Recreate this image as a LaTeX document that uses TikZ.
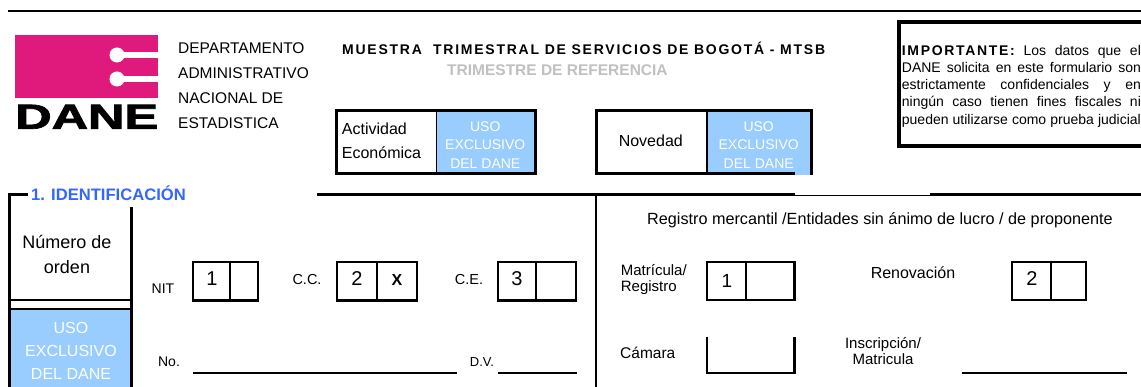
\documentclass[tikz,border=0pt]{standalone}
\usepackage{fontspec}
\usepackage{graphicx}
\setmainfont{Liberation Sans}
\newfontfamily\danefont{Liberation Sans}[BoldFeatures={FakeBold=2}]
\newfontfamily\trackfont{Liberation Sans}[LetterSpace=12.5]
\newfontfamily\noticefont{Liberation Sans}[LetterSpace=12]
\newcommand\fsz[1]{\fontsize{#1}{#1}\selectfont}
\definecolor{danepink}{RGB}{224,26,124}
\definecolor{usoblue}{RGB}{153,204,255}
\definecolor{secblue}{RGB}{51,102,255}
\definecolor{refgray}{RGB}{192,192,192}
\tikzset{
  formline/.style={line width=2.2pt},
  thickline/.style={line width=3pt},
  lbl/.style={inner sep=0pt, anchor=base},
  lbll/.style={inner sep=0pt, anchor=base west},
  usolabel/.style={lbl, text=white, font=\fsz{14}},
  digit/.style={lbl, font=\fsz{20}},
}

\begin{document}
\begin{tikzpicture}[x=1pt,y=-1pt]
\useasboundingbox (0,0) rectangle (1141,387);
\draw[formline] (8,11) -- (1141,11); % top rule

% logo
\fill[danepink] (15,35) rectangle (158,98);
\foreach \yc in {55,79} {
  \fill[white] (117,\yc) circle (7.5pt);
  \fill[white] (117,\yc-2.7) rectangle (158,\yc+2.7);
}
\node[inner sep=0pt, anchor=south west] (danename) at (15,129) {\resizebox{143pt}{24pt}{\danefont\bfseries DANE}};
\foreach \t [count=\i] in {DEPARTAMENTO,ADMINISTRATIVO,NACIONAL DE,ESTADISTICA}
  \node[lbll, font=\fsz{15.5}] (dept\i) at (178,28.3+25*\i) {\t};

% titles
\node[lbll, font=\trackfont\bfseries\fsz{14}] (survey) at (342,54.3) {MUESTRA\ \ TRIMESTRAL DE SERVICIOS DE BOGOTÁ - MTSB};
\node[lbll, text=refgray, font=\bfseries\fsz{15.5}] (period) at (447,76) {TRIMESTRE DE REFERENCIA};

% actividad / novedad
\fill[usoblue] (436.5,111) rectangle (535.3,173.3);
\fill[usoblue] (706.7,111) rectangle (811,173.3);
\draw[thickline] (336.7,111) rectangle (535.3,173.3);
\draw[thickline] (596.3,111) rectangle (811,173.3);
\draw[line width=1.8pt] (436.5,111) -- (436.5,173.3) (706.7,111) -- (706.7,173.3);
\fill[usoblue] (795,172) rectangle (809.5,175.5);
\node[lbll, font=\fsz{16}] (act1) at (341.7,135) {Actividad};
\node[lbll, font=\fsz{16}] (act2) at (341.7,158.3) {Económica};
\node[lbl, font=\fsz{16}] (nov) at (650.8,146.7) {Novedad};
\foreach \t [count=\i] in {USO,EXCLUSIVO,DEL DANE} {
  \node[usolabel] (usoact\i) at (485.3,113.4+18.3*\i) {\t};
  \node[usolabel] (usonov\i) at (758.7,113.4+18.3*\i) {\t};
}

% importante
\draw[line width=4.5pt] (899,22) rectangle (1160,146);
\node[anchor=base west, inner sep=0pt, text width=239pt, align=justify, font=\fontsize{14}{17.1}\selectfont] (notice) at (901.7,55.7)
  {\hyphenpenalty=10000 {\noticefont\bfseries IMPORTANTE:} Los datos que el\linebreak DANE solicita en este formulario son\linebreak estrictamente confidenciales y en\linebreak ningún caso tienen fines fiscales ni\linebreak pueden utilizarse como prueba judicial\parfillskip=0pt\par};

% 1. identificacion
\draw[formline] (28,194.5) -- (9.5,194.5) -- (9.5,387);
\node[lbll, text=secblue, font=\bfseries\fsz{16.6}] (sec1) at (31,200.7) {1. IDENTIFICACIÓN};
\draw[formline] (317,194.5) -- (795,194.5) (930,194.5) -- (1141,194.5);
\draw[line width=1.5pt] (795,195.3) -- (930,195.3);
\draw[formline] (595.8,194.5) -- (595.8,387);

% numero de orden
\draw[thickline] (131.7,207.3) -- (131.7,387);
\draw[formline] (9.5,300) -- (131.7,300) (9.5,309) -- (131.7,309);
\fill[usoblue] (10.7,310.2) rectangle (130.2,387);
\node[lbl, font=\fsz{18}] (ord1) at (67,248.3) {Número de};
\node[lbl, font=\fsz{18}] (ord2) at (67,273.3) {orden};
\foreach \t [count=\i] in {USO,EXCLUSIVO,DEL DANE}
  \node[usolabel, font=\fsz{16}] (usoord\i) at (71,311+23*\i) {\t};

% nit / cc / ce
\foreach \xa/\xm/\xb/\yb in {193/230/258.3/300.5, 337/377/417/300.5, 498/536/576/300.5, 707/746/794.5/300, 1012/1051/1086/300}
  \draw[formline] (\xa,262) rectangle (\xb,\yb) (\xm,262) -- (\xm,\yb);
\node[lbl, font=\fsz{14}] (nit) at (163,293.3) {NIT};
\node[lbl, font=\fsz{14.5}] (cc) at (307,284.5) {C.C.};
\node[lbl, font=\fsz{14.5}] (ce) at (469,284.5) {C.E.};
\node[digit] (nit1) at (212,285.5) {1};
\node[digit] (cc1) at (357,285.5) {2};
\node[lbl, font=\bfseries\fsz{16}] (ccx) at (397,285.5) {X};
\node[digit] (ce1) at (517,285.5) {3};
\node[lbl, font=\fsz{14}] (no) at (169,366.5) {No.};
\node[lbl, font=\fsz{13}] (dv) at (482,366.5) {D.V.};
\draw[formline] (193,373) -- (457,373) (498,373) -- (577,373);

% registro mercantil
\node[lbl, font=\fsz{16.2}] (reg) at (880,224.3) {Registro mercantil /Entidades sin ánimo de lucro / de proponente};
\node[lbll, font=\fsz{15}] (mat1) at (620.7,275.7) {Matrícula/};
\node[lbll, font=\fsz{15}] (mat2) at (620.7,291.7) {Registro};
\node[digit, font=\fsz{19}] (matdig) at (727,288) {1};
\node[lbl, font=\fsz{16}] (ren) at (913,278.3) {Renovación};
\node[digit] (rendig) at (1032,286) {2};
\node[lbll, font=\fsz{15.5}] (cam) at (620,359) {Cámara};
\draw[formline] (706.7,336.7) -- (706.7,373) -- (794.5,373) -- (794.5,336.7);
\node[lbl, font=\fsz{15}] (insc1) at (883,348.3) {Inscripción/};
\node[lbl, font=\fsz{15}] (insc2) at (883,365) {Matricula};
\draw[formline] (961.7,373) -- (1126.7,373);
\end{tikzpicture}
\end{document}
